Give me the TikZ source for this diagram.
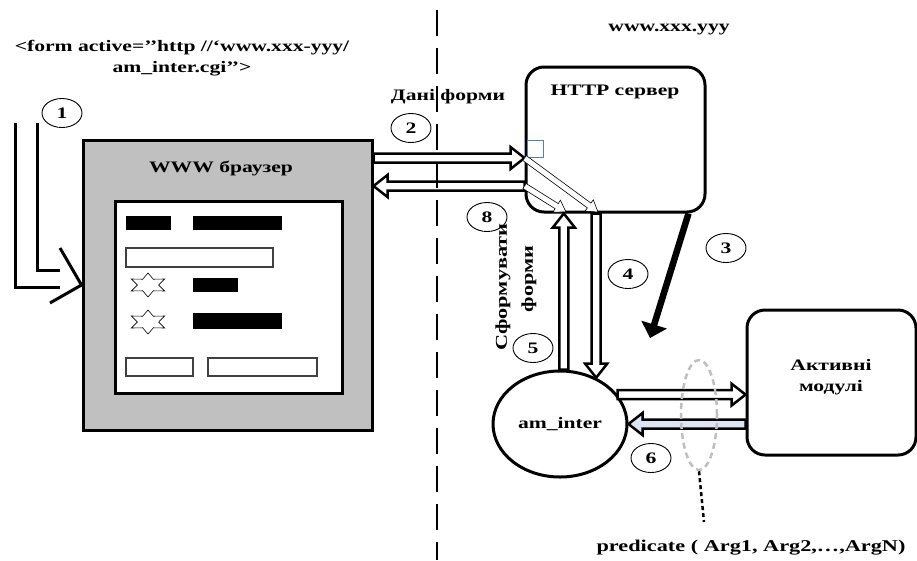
\documentclass[tikz,border=0pt]{standalone}
\usepackage{fontspec}
\setmainfont{Liberation Serif}[FakeStretch=1.35]
\usetikzlibrary{arrows.meta, shapes.geometric, calc}

\definecolor{browsergray}{HTML}{C0C0C0}
\definecolor{backblue}{HTML}{DCE6F2}
\definecolor{ringgray}{HTML}{BFBFBF}
\definecolor{markblue}{HTML}{4F81BD}

\begin{document}
\begin{tikzpicture}[
            x=1pt, y=-1pt,
            lbl/.style={font=\fontsize{16}{21}\selectfont\bfseries, inner sep=0pt, align=center},
            rotlbl/.style={font=\fontsize{16.5}{18}\selectfont\bfseries, inner sep=0pt, rotate=90},
            num/.style={ellipse, draw, line width=0.9pt, fill=white, minimum width=40pt, minimum height=29pt, inner sep=0pt, font=\fontsize{16}{18}\selectfont\bfseries},
            browserbox/.style={rectangle, draw, line width=3pt, fill=browsergray, minimum width=289pt, minimum height=290pt},
            panel/.style={rectangle, draw, line width=3pt, fill=white, minimum width=227pt, minimum height=192pt},
            blackbar/.style={rectangle, fill=black, inner sep=0pt},
            inputfield/.style={rectangle, draw=black!75, line width=1.2pt, fill=white, inner sep=0pt},
            starmark/.style={star, star points=6, star point ratio=1.8, draw, line width=0.6pt, minimum size=24pt, inner sep=0pt},
            srvbox/.style={rectangle, draw, line width=3pt, rounded corners=18pt, minimum width=179pt, minimum height=145pt},
            modbox/.style={rectangle, draw, line width=3pt, rounded corners=18pt, minimum width=169pt, minimum height=145pt},
            amnode/.style={ellipse, draw, line width=3pt, fill=white, minimum width=134pt, minimum height=106pt, font=\fontsize{16}{18}\selectfont\bfseries},
            argring/.style={ellipse, draw=ringgray, line width=2.5pt, dash pattern=on 6pt off 4pt, minimum width=36pt, minimum height=110pt},
            bluesq/.style={rectangle, draw=markblue, line width=0.7pt, minimum width=16pt, minimum height=17pt, inner sep=0pt},
            % outlined block arrow: half body width, half head width, head length
            harrow/.style n args={3}{to path={
                ($(\tikztostart)!#1!90:(\tikztotarget)$)
                -- ($(\tikztotarget)!#3!(\tikztostart)!#1!-90:(\tikztostart)$)
                -- ($(\tikztotarget)!#3!(\tikztostart)!#2!-90:(\tikztostart)$)
                -- (\tikztotarget)
                -- ($(\tikztotarget)!#3!(\tikztostart)!#2!90:(\tikztostart)$)
                -- ($(\tikztotarget)!#3!(\tikztostart)!#1!90:(\tikztostart)$)
                -- ($(\tikztostart)!#1!-90:(\tikztotarget)$)
                -- cycle}},
            hollow/.style={harrow={4.5pt}{11pt}{14pt}, draw, line width=2.5pt, fill=white, line join=miter},
            hollowblue/.style={hollow, fill=backblue},
            thinhollow/.style={harrow={3pt}{7pt}{11pt}, draw, line width=0.6pt, fill=white},
            bigarrow/.style={line width=6.5pt, -{Triangle[length=14pt, width=26pt]}},
            inline/.style={line width=3pt},
            dotline/.style={line width=2.5pt, dash pattern=on 4pt off 3pt},
            separator/.style={line width=1.3pt, dash pattern=on 26pt off 12pt}
        ]
        \useasboundingbox (0,0) rectangle (917,560);

        % ==========================================
        % LEFT SIDE: BROWSER
        % ==========================================
        \node[lbl] (formtag) at (182,58.5) {<form active=’’http //‘www.xxx-yyy/\\am\_inter.cgi’’>};
        \node[num] (n1) at (62,113) {1};

        \node[browserbox] (browser) at (227.5,285) {};
        \node[lbl] (browsertitle) at (221,168) {WWW браузер};

        % the page with its form
        \node[panel] (panel) at (228.5,297) {};
        \node[blackbar, minimum width=45pt, minimum height=14pt] (bar1) at (148.5,223) {};
        \node[blackbar, minimum width=89pt, minimum height=14pt] (bar2) at (237.5,223) {};
        \node[inputfield, minimum width=147pt, minimum height=19pt] (field1) at (199.5,257.5) {};
        \begin{scope}[shift={(148,285)}, xscale=1.6]
            \node[starmark, transform shape] (star1) at (0,0) {};
        \end{scope}
        \node[blackbar, minimum width=45pt, minimum height=14pt] (bar3) at (215.5,285) {};
        \begin{scope}[shift={(148,322)}, xscale=1.6]
            \node[starmark, transform shape] (star2) at (0,0) {};
        \end{scope}
        \node[blackbar, minimum width=89pt, minimum height=16pt] (bar4) at (237.5,321) {};
        \node[inputfield, minimum width=67pt, minimum height=18pt] (field2) at (159.5,367) {};
        \node[inputfield, minimum width=109pt, minimum height=18pt] (field3) at (262.5,367) {};

        % user input coming into the browser
        \coordinate (in1a) at (15,123);
        \coordinate (in1b) at (37,123);
        \coordinate (in1c) at (60,287);
        \coordinate (in1d) at (60,270);
        \coordinate (tipup) at (60,248);
        \coordinate (tipdown) at (50,303);
        \draw[inline] (in1a) |- (in1c);
        \draw[inline] (in1b) |- (in1d);
        \draw[inline] (tipup) -- (browser.west) -- (tipdown);

        % ==========================================
        % RIGHT SIDE: SERVER
        % ==========================================
        \node[lbl] (host) at (669,30) {www.xxx.yyy};
        \node[srvbox] (srv) at (615.5,139.5) {};
        \node[lbl] (srvtitle) at (615,92) {HTTP сервер};
        \node[bluesq] (mark) at (535,148.5) {};

        \node[lbl] (formdata) at (448,97) {Дані форми};
        \node[num] (n2) at (411,128) {2};
        \node[num] (n8) at (487,217) {8};

        \coordinate (in2) at ([yshift=-18.5pt]srv.west);
        \coordinate (out8) at ([yshift=-46.5pt]srv.west);
        \draw[hollow] (browser.east |- in2) to (in2);
        \draw[hollow] (out8) to (browser.east |- out8);

        % inside the server
        \coordinate (d1e) at (598,212);
        \coordinate (d2e) at (566,212);
        \draw[thinhollow] (in2) to (d1e);
        \draw[thinhollow] (out8) to (d2e);

        % am_inter and the modules
        \node[amnode] (amint) at (560,424) {am\_inter};
        \node[modbox] (active) at (831.5,382.5) {};
        \node[lbl] (activetitle) at (831,377.5) {Активні\\модулі};

        \draw[hollow] (amint.86) to (srv.south -| amint.86);
        \draw[hollow] (srv.south -| amint.52) to (amint.52);
        \coordinate (c3end) at (650,338);
        \draw[bigarrow] ([xshift=-18pt]srv.south east) -- (c3end);

        \draw[hollow] (amint.27) to (active.west |- amint.27);
        \draw[hollowblue] (active.west |- amint.east) to (amint.east);

        \node[rotlbl] (mkforms1) at (503,287) {Сформувати};
        \node[rotlbl] (mkforms2) at (529,279) {форми};

        \node[num] (n3) at (726,248) {3};
        \node[num] (n4) at (628,274) {4};
        \node[num] (n5) at (533,348) {5};
        \node[num] (n6) at (651,458) {6};

        % arguments passed to the modules
        \node[argring] (args) at (699,415) {};
        \coordinate (argtail) at (704,522);
        \draw[dotline] (args.south) -- (argtail);
        \node[lbl, font=\fontsize{16.5}{21}\selectfont\bfseries] (pred) at (751,548) {predicate ( Arg1, Arg2,…,ArgN)};

        % ==========================================
        % SEPARATOR
        % ==========================================
        \coordinate (septop) at (437,10);
        \coordinate (sepbot) at (437,560);
        \draw[separator] (septop) -- (sepbot);

        \end{tikzpicture}
\end{document}
